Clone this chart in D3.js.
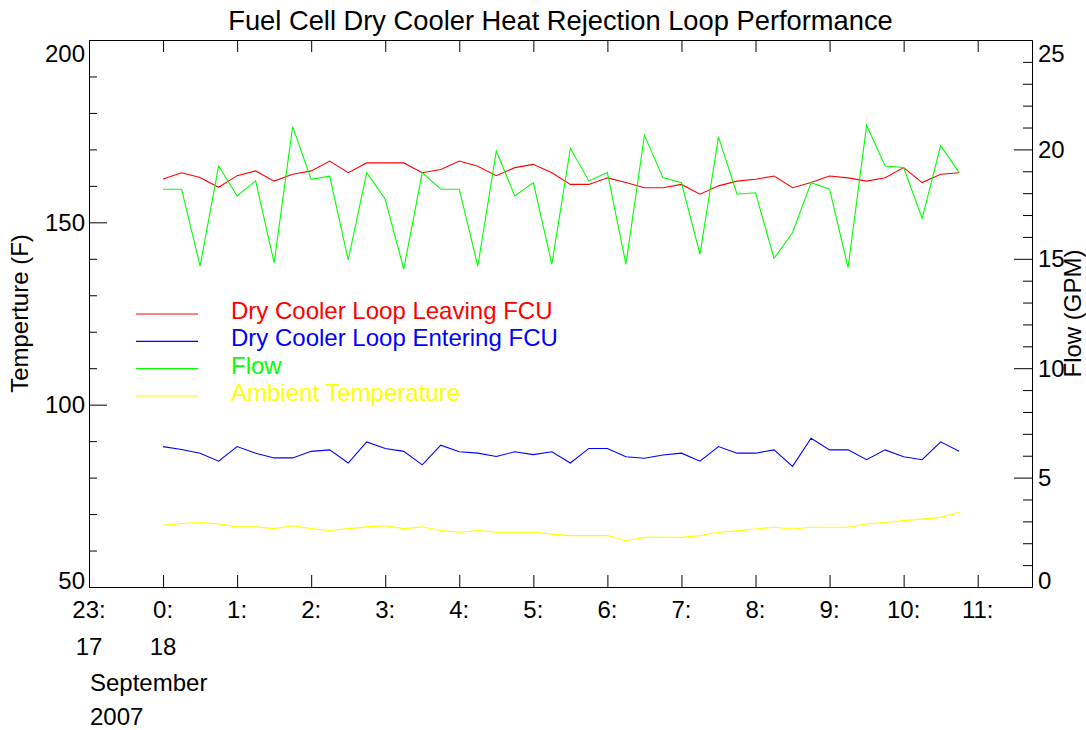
<!DOCTYPE html>
<html><head><meta charset="utf-8">
<script src="https://cdn.jsdelivr.net/npm/d3@7"></script>
<style>
body{margin:0;background:#fff}
text{font-family:"Liberation Sans",Arial,Helvetica,sans-serif}
</style>
</head><body>
<svg id="chart" width="1086" height="730"></svg>
<script>
const title = "Fuel Cell Dry Cooler Heat Rejection Loop Performance";
const leftAxisTitle = "Temperture (F)";
const rightAxisTitle = "Flow (GPM)";

const times = ["2007-09-18T00:00","2007-09-18T00:15","2007-09-18T00:30","2007-09-18T00:45",
  "2007-09-18T01:00","2007-09-18T01:15","2007-09-18T01:30","2007-09-18T01:45",
  "2007-09-18T02:00","2007-09-18T02:15","2007-09-18T02:30","2007-09-18T02:45",
  "2007-09-18T03:00","2007-09-18T03:15","2007-09-18T03:30","2007-09-18T03:45",
  "2007-09-18T04:00","2007-09-18T04:15","2007-09-18T04:30","2007-09-18T04:45",
  "2007-09-18T05:00","2007-09-18T05:15","2007-09-18T05:30","2007-09-18T05:45",
  "2007-09-18T06:00","2007-09-18T06:15","2007-09-18T06:30","2007-09-18T06:45",
  "2007-09-18T07:00","2007-09-18T07:15","2007-09-18T07:30","2007-09-18T07:45",
  "2007-09-18T08:00","2007-09-18T08:15","2007-09-18T08:30","2007-09-18T08:45",
  "2007-09-18T09:00","2007-09-18T09:15","2007-09-18T09:30","2007-09-18T09:45",
  "2007-09-18T10:00","2007-09-18T10:15","2007-09-18T10:30","2007-09-18T10:45"];

const leavingFCU = [161.9,163.6,162.3,159.6,162.8,164.1,161.3,163.2,164.1,166.8,
  163.6,166.3,166.3,166.3,163.6,164.5,166.8,165.4,162.8,165.0,
  165.9,163.6,160.4,160.4,162.2,160.9,159.5,159.5,160.4,157.7,
  160.0,161.3,161.8,162.7,159.5,160.9,162.7,162.2,161.3,162.2,
  165.0,160.9,163.2,163.6];

const enteringFCU = [88.5,87.7,86.7,84.5,88.5,86.7,85.4,85.4,87.2,87.6,
  84.0,89.8,88.0,87.2,83.5,88.9,87.1,86.7,85.8,87.1,
  86.3,87.1,84.0,88.0,88.0,85.7,85.3,86.2,86.7,84.5,
  88.5,86.7,86.7,87.6,83.1,90.8,87.6,87.6,84.9,87.6,
  85.7,84.9,89.8,87.2];

const flowGPM = [18.18,18.18,14.67,19.24,17.87,18.56,14.82,21.04,18.63,18.78,
  14.95,18.94,17.72,14.53,18.94,18.18,18.18,14.67,19.93,17.87,
  18.48,14.75,20.05,18.56,18.94,14.75,20.64,18.71,18.48,15.2,
  20.57,17.95,18.02,15.02,16.19,18.48,18.18,14.6,21.1,19.24,
  19.17,16.85,20.17,18.94];

const ambientTemp = [66.9,67.4,67.7,67.3,66.5,66.5,66.0,66.8,66.0,65.5,
  66.0,66.5,66.8,66.0,66.5,65.5,65.0,65.5,65.0,65.0,
  65.0,64.5,64.1,64.1,64.1,62.7,63.6,63.6,63.6,64.1,
  65.0,65.4,65.9,66.4,65.9,66.4,66.4,66.4,67.3,67.7,
  68.2,68.6,69.1,70.5];

const tempTicks = [50,100,150,200];
const tempMinorTicks = [60,70,80,90,110,120,130,140,160,170,180,190];
const flowTicks = [0,5,10,15,20,25];
const flowMinorTicks = [1,2,3,4,6,7,8,9,11,12,13,14,16,17,18,19,21,22,23,24];
const hourTicks = ["2007-09-17T23:00","2007-09-18T00:00","2007-09-18T01:00","2007-09-18T02:00",
  "2007-09-18T03:00","2007-09-18T04:00","2007-09-18T05:00","2007-09-18T06:00",
  "2007-09-18T07:00","2007-09-18T08:00","2007-09-18T09:00","2007-09-18T10:00","2007-09-18T11:00"];
const timeDomain = ["2007-09-17T23:00","2007-09-18T11:44"];
const dayLabels = [["2007-09-17T23:00","17"],["2007-09-18T00:00","18"]];
const monthLabel = "September";
const yearLabel = "2007";

const legendNames = ["Dry Cooler Loop Leaving FCU","Dry Cooler Loop Entering FCU","Flow","Ambient Temperature"];

// ---- styles / layout ----
const colors = ["#ff0000","#0000ff","#00ff00","#ffff00"];
const L = 89, R = 1032, T = 40, B = 587;
const fs = 24;

const parse = d3.timeParse("%Y-%m-%dT%H:%M");
const svg = d3.select("#chart");

const x = d3.scaleTime().domain(timeDomain.map(parse)).range([L, R]);
const yT = d3.scaleLinear().domain([50, 200]).range([B, T]);
const yF = d3.scaleLinear().domain([0, 25]).range([B, T]);

const hours = hourTicks.map(parse);

function styleAxis(g){
  g.selectAll("path.domain").attr("stroke","#000").attr("stroke-width",1);
  g.selectAll(".tick line").attr("stroke","#000").attr("stroke-width",1);
  g.selectAll("text").remove();
}
svg.append("g").attr("transform",`translate(0,${B})`)
  .call(d3.axisBottom(x).tickValues(hours).tickSizeInner(-12).tickSizeOuter(0).tickFormat(""))
  .call(styleAxis);
svg.append("g").attr("transform",`translate(0,${T})`)
  .call(d3.axisTop(x).tickValues(hours).tickSizeInner(-12).tickSizeOuter(0).tickFormat(""))
  .call(styleAxis);
svg.append("g").attr("transform",`translate(${L},0)`)
  .call(d3.axisLeft(yT).tickValues(tempTicks).tickSizeInner(-18).tickSizeOuter(0).tickFormat(""))
  .call(styleAxis);
svg.append("g").attr("transform",`translate(${L},0)`)
  .call(d3.axisLeft(yT).tickValues(tempMinorTicks).tickSizeInner(-8).tickSizeOuter(0).tickFormat(""))
  .call(styleAxis);
svg.append("g").attr("transform",`translate(${R},0)`)
  .call(d3.axisRight(yF).tickValues(flowTicks).tickSizeInner(-18).tickSizeOuter(0).tickFormat(""))
  .call(styleAxis);
svg.append("g").attr("transform",`translate(${R},0)`)
  .call(d3.axisRight(yF).tickValues(flowMinorTicks).tickSizeInner(-9).tickSizeOuter(0).tickFormat(""))
  .call(styleAxis);

function labelY(y){ return Math.min(Math.max(y, T + 13), B - 7); }

svg.append("g").selectAll("text").data(tempTicks).join("text")
  .attr("x", L - 4).attr("y", d => labelY(yT(d))).attr("dy","0.36em")
  .attr("text-anchor","end").attr("font-size",fs).text(d => d);
svg.append("g").selectAll("text").data(flowTicks).join("text")
  .attr("x", R + 6).attr("y", d => labelY(yF(d))).attr("dy","0.36em")
  .attr("text-anchor","start").attr("font-size",fs).text(d => d);

const hourFmt = d3.timeFormat("%-H:");
svg.append("g").selectAll("text").data(hours).join("text")
  .attr("x", d => x(d)).attr("y", 618).attr("text-anchor","middle")
  .attr("font-size",fs).text(d => hourFmt(d));
svg.append("g").selectAll("text").data(dayLabels).join("text")
  .attr("x", d => x(parse(d[0]))).attr("y", 654.5).attr("text-anchor","middle")
  .attr("font-size",fs).text(d => d[1]);
svg.append("text").attr("x", L + 1).attr("y", 690.5).attr("font-size",fs).text(monthLabel);
svg.append("text").attr("x", L + 1).attr("y", 724.5).attr("font-size",fs).text(yearLabel);

svg.append("text").attr("x",(L+R)/2).attr("y",30).attr("text-anchor","middle")
  .attr("font-size",27.3).text(title);
svg.append("text").attr("transform",`translate(28,${(T+B)/2}) rotate(-90)`)
  .attr("text-anchor","middle").attr("font-size",fs).text(leftAxisTitle);
svg.append("text").attr("transform",`translate(1081,${(T+B)/2}) rotate(-90)`)
  .attr("text-anchor","middle").attr("font-size",fs).text(rightAxisTitle);

const tArr = times.map(parse);
const seriesDefs = [
  {vals: leavingFCU, scale: yT},
  {vals: enteringFCU, scale: yT},
  {vals: flowGPM, scale: yF},
  {vals: ambientTemp, scale: yT}
];
[3,1,0,2].forEach(i => {
  const s = seriesDefs[i];
  const line = d3.line().x((d,k) => x(tArr[k])).y(d => s.scale(d));
  svg.append("path").attr("d", line(s.vals)).attr("fill","none")
    .attr("stroke", colors[i]).attr("stroke-width",1.1);
});

const legendY = d3.scaleLinear().domain([0,3]).range([314,396]);
const lg = svg.append("g");
legendNames.forEach((name,i) => {
  lg.append("line").attr("x1",136).attr("x2",198)
    .attr("y1",legendY(i)).attr("y2",legendY(i))
    .attr("stroke",colors[i]).attr("stroke-width",1.1);
  lg.append("text").attr("x",231).attr("y",legendY(i)+5)
    .attr("font-size",fs).attr("fill",colors[i]).text(name);
});
</script>
</body></html>
